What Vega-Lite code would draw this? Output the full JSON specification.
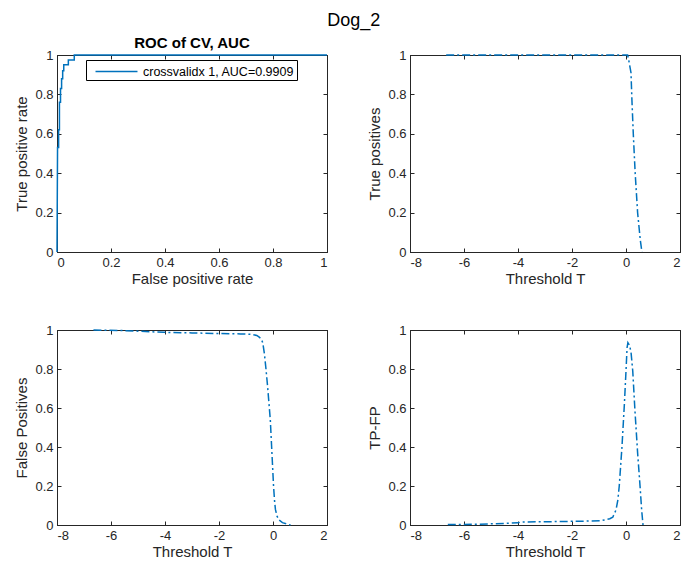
{
  "$schema": "https://vega.github.io/schema/vega-lite/v6.json",
  "background": "white",
  "padding": {"left": 14, "top": 11, "right": 0, "bottom": 0},
  "title": {"text": "Dog_2", "fontSize": 18, "font": "Liberation Sans", "fontWeight": "normal", "color": "black", "anchor": "middle", "offset": 6, "dx": 6},
  "datasets": {
    "roc": [
      {"i": 0, "fpr": 0, "tpr": 0, "s": "crossvalidx 1, AUC=0.9909"},
      {"i": 1, "fpr": 0.002, "tpr": 0.53, "s": "crossvalidx 1, AUC=0.9909"},
      {"i": 2, "fpr": 0.006, "tpr": 0.53, "s": "crossvalidx 1, AUC=0.9909"},
      {"i": 3, "fpr": 0.006, "tpr": 0.62, "s": "crossvalidx 1, AUC=0.9909"},
      {"i": 4, "fpr": 0.009, "tpr": 0.62, "s": "crossvalidx 1, AUC=0.9909"},
      {"i": 5, "fpr": 0.009, "tpr": 0.76, "s": "crossvalidx 1, AUC=0.9909"},
      {"i": 6, "fpr": 0.013, "tpr": 0.76, "s": "crossvalidx 1, AUC=0.9909"},
      {"i": 7, "fpr": 0.013, "tpr": 0.83, "s": "crossvalidx 1, AUC=0.9909"},
      {"i": 8, "fpr": 0.017, "tpr": 0.83, "s": "crossvalidx 1, AUC=0.9909"},
      {"i": 9, "fpr": 0.017, "tpr": 0.88, "s": "crossvalidx 1, AUC=0.9909"},
      {"i": 10, "fpr": 0.021, "tpr": 0.88, "s": "crossvalidx 1, AUC=0.9909"},
      {"i": 11, "fpr": 0.021, "tpr": 0.92, "s": "crossvalidx 1, AUC=0.9909"},
      {"i": 12, "fpr": 0.025, "tpr": 0.92, "s": "crossvalidx 1, AUC=0.9909"},
      {"i": 13, "fpr": 0.025, "tpr": 0.95, "s": "crossvalidx 1, AUC=0.9909"},
      {"i": 14, "fpr": 0.042, "tpr": 0.95, "s": "crossvalidx 1, AUC=0.9909"},
      {"i": 15, "fpr": 0.042, "tpr": 0.975, "s": "crossvalidx 1, AUC=0.9909"},
      {"i": 16, "fpr": 0.064, "tpr": 0.975, "s": "crossvalidx 1, AUC=0.9909"},
      {"i": 17, "fpr": 0.064, "tpr": 1, "s": "crossvalidx 1, AUC=0.9909"},
      {"i": 18, "fpr": 1, "tpr": 1, "s": "crossvalidx 1, AUC=0.9909"}
    ],
    "tp": [
      {"t": -6.66, "v": 1}, {"t": -4, "v": 1}, {"t": -2, "v": 1}, {"t": 0, "v": 1},
      {"t": 0.06, "v": 1}, {"t": 0.10, "v": 0.975}, {"t": 0.185, "v": 0.91},
      {"t": 0.22, "v": 0.77}, {"t": 0.27, "v": 0.60}, {"t": 0.34, "v": 0.40},
      {"t": 0.43, "v": 0.20}, {"t": 0.53, "v": 0.06}, {"t": 0.59, "v": 0}
    ],
    "fp": [
      {"t": -6.65, "v": 1}, {"t": -5.5, "v": 0.997}, {"t": -4.04, "v": 0.988},
      {"t": -3, "v": 0.985}, {"t": -2, "v": 0.982}, {"t": -1.2, "v": 0.98},
      {"t": -0.81, "v": 0.978}, {"t": -0.6, "v": 0.972}, {"t": -0.51, "v": 0.963},
      {"t": -0.44, "v": 0.955}, {"t": -0.38, "v": 0.935}, {"t": -0.32, "v": 0.88},
      {"t": -0.26, "v": 0.80}, {"t": -0.20, "v": 0.71}, {"t": -0.10, "v": 0.54},
      {"t": -0.04, "v": 0.37}, {"t": 0.02, "v": 0.20}, {"t": 0.06, "v": 0.12},
      {"t": 0.09, "v": 0.08}, {"t": 0.15, "v": 0.045}, {"t": 0.23, "v": 0.025},
      {"t": 0.35, "v": 0.012}, {"t": 0.54, "v": 0.004}, {"t": 0.65, "v": 0}
    ],
    "tpfp": [
      {"t": -6.6, "v": 0.002}, {"t": -5.5, "v": 0.004}, {"t": -4.5, "v": 0.008},
      {"t": -4.01, "v": 0.011}, {"t": -3.89, "v": 0.015}, {"t": -2.41, "v": 0.018},
      {"t": -1.5, "v": 0.02}, {"t": -0.93, "v": 0.022}, {"t": -0.8, "v": 0.026},
      {"t": -0.6, "v": 0.032}, {"t": -0.49, "v": 0.04}, {"t": -0.37, "v": 0.077},
      {"t": -0.30, "v": 0.13}, {"t": -0.25, "v": 0.20}, {"t": -0.15, "v": 0.40},
      {"t": -0.06, "v": 0.62}, {"t": 0.0, "v": 0.79}, {"t": 0.04, "v": 0.91},
      {"t": 0.07, "v": 0.935}, {"t": 0.09, "v": 0.93}, {"t": 0.12, "v": 0.925},
      {"t": 0.15, "v": 0.91}, {"t": 0.19, "v": 0.88}, {"t": 0.25, "v": 0.79},
      {"t": 0.33, "v": 0.59}, {"t": 0.43, "v": 0.37}, {"t": 0.52, "v": 0.20},
      {"t": 0.58, "v": 0.077}, {"t": 0.63, "v": 0}
    ]
  },
  "columns": 2,
  "spacing": {"row": 78, "column": 83},
  "bounds": "flush",
  "concat": [
    {
      "width": 270, "height": 197,
      "title": {"text": "ROC of CV, AUC", "fontSize": 15, "fontWeight": "bold", "font": "Liberation Sans", "color": "black", "offset": -2},
      "data": {"name": "roc"},
      "layer": [
        {
          "mark": {"type": "line", "strokeWidth": 1.5, "color": "#0072BD"},
          "encoding": {
            "x": {"field": "fpr", "type": "quantitative", "scale": {"domain": [0, 1], "nice": false}, "axis": {"values": [0, 0.2, 0.4, 0.6, 0.8, 1], "labelExpr": "'' + datum.value", "title": "False positive rate"}},
            "y": {"field": "tpr", "type": "quantitative", "scale": {"domain": [0, 1], "nice": false}, "axis": {"values": [0, 0.2, 0.4, 0.6, 0.8, 1], "labelExpr": "'' + datum.value", "title": "True positive rate", "titlePadding": 5}},
            "color": {"field": "s", "type": "nominal", "scale": {"range": ["#0072BD"]}, "legend": {"orient": "none", "legendX": 29, "legendY": 5, "title": null, "symbolType": "M-2.5,0H2.5", "symbolSize": 282, "symbolStrokeWidth": 1.5, "strokeColor": "black", "fillColor": "white", "padding": 2, "symbolOffset": 19, "labelFont": "Liberation Sans", "labelFontSize": 12.5, "labelColor": "black", "labelOffset": 17}},
            "order": {"field": "i", "type": "quantitative"}
          }
        },
        {
          "mark": {"type": "line", "opacity": 0},
          "encoding": {
            "x": {"field": "fpr", "type": "quantitative", "axis": {"orient": "top", "values": [0, 0.2, 0.4, 0.6, 0.8, 1], "labels": false, "title": null}},
            "y": {"field": "tpr", "type": "quantitative", "axis": {"orient": "right", "values": [0, 0.2, 0.4, 0.6, 0.8, 1], "labels": false, "title": null}},
            "order": {"field": "i", "type": "quantitative"}
          }
        }
      ],
      "resolve": {"axis": {"x": "independent", "y": "independent"}, "scale": {"color": "independent"}, "legend": {"color": "independent"}}
    },
    {
      "width": 270, "height": 197,
      "data": {"name": "tp"},
      "layer": [
        {
          "mark": {"type": "line", "strokeWidth": 1.5, "color": "#0072BD", "strokeDash": [8, 3, 2, 3]},
          "encoding": {
            "x": {"field": "t", "type": "quantitative", "scale": {"domain": [-8, 2], "nice": false}, "axis": {"values": [-8, -6, -4, -2, 0, 2], "labelExpr": "'' + datum.value", "title": "Threshold T"}},
            "y": {"field": "v", "type": "quantitative", "scale": {"domain": [0, 1], "nice": false}, "axis": {"values": [0, 0.2, 0.4, 0.6, 0.8, 1], "labelExpr": "'' + datum.value", "title": "True positives", "titlePadding": 5}}
          }
        },
        {
          "mark": {"type": "line", "opacity": 0},
          "encoding": {
            "x": {"field": "t", "type": "quantitative", "axis": {"orient": "top", "values": [-8, -6, -4, -2, 0, 2], "labels": false, "title": null}},
            "y": {"field": "v", "type": "quantitative", "axis": {"orient": "right", "values": [0, 0.2, 0.4, 0.6, 0.8, 1], "labels": false, "title": null}}
          }
        }
      ],
      "resolve": {"axis": {"x": "independent", "y": "independent"}}
    },
    {
      "width": 270, "height": 195,
      "data": {"name": "fp"},
      "layer": [
        {
          "mark": {"type": "line", "strokeWidth": 1.5, "color": "#0072BD", "strokeDash": [8, 3, 2, 3]},
          "encoding": {
            "x": {"field": "t", "type": "quantitative", "scale": {"domain": [-8, 2], "nice": false}, "axis": {"values": [-8, -6, -4, -2, 0, 2], "labelExpr": "'' + datum.value", "title": "Threshold T"}},
            "y": {"field": "v", "type": "quantitative", "scale": {"domain": [0, 1], "nice": false}, "axis": {"values": [0, 0.2, 0.4, 0.6, 0.8, 1], "labelExpr": "'' + datum.value", "title": "False Positives", "titlePadding": 5}}
          }
        },
        {
          "mark": {"type": "line", "opacity": 0},
          "encoding": {
            "x": {"field": "t", "type": "quantitative", "axis": {"orient": "top", "values": [-8, -6, -4, -2, 0, 2], "labels": false, "title": null}},
            "y": {"field": "v", "type": "quantitative", "axis": {"orient": "right", "values": [0, 0.2, 0.4, 0.6, 0.8, 1], "labels": false, "title": null}}
          }
        }
      ],
      "resolve": {"axis": {"x": "independent", "y": "independent"}}
    },
    {
      "width": 270, "height": 195,
      "data": {"name": "tpfp"},
      "layer": [
        {
          "mark": {"type": "line", "strokeWidth": 1.5, "color": "#0072BD", "strokeDash": [8, 3, 2, 3]},
          "encoding": {
            "x": {"field": "t", "type": "quantitative", "scale": {"domain": [-8, 2], "nice": false}, "axis": {"values": [-8, -6, -4, -2, 0, 2], "labelExpr": "'' + datum.value", "title": "Threshold T"}},
            "y": {"field": "v", "type": "quantitative", "scale": {"domain": [0, 1], "nice": false}, "axis": {"values": [0, 0.2, 0.4, 0.6, 0.8, 1], "labelExpr": "'' + datum.value", "title": "TP-FP", "titlePadding": 5}}
          }
        },
        {
          "mark": {"type": "line", "opacity": 0},
          "encoding": {
            "x": {"field": "t", "type": "quantitative", "axis": {"orient": "top", "values": [-8, -6, -4, -2, 0, 2], "labels": false, "title": null}},
            "y": {"field": "v", "type": "quantitative", "axis": {"orient": "right", "values": [0, 0.2, 0.4, 0.6, 0.8, 1], "labels": false, "title": null}}
          }
        }
      ],
      "resolve": {"axis": {"x": "independent", "y": "independent"}}
    }
  ],
  "config": {
    "view": {"stroke": "#262626", "strokeWidth": 1},
    "axis": {
      "grid": false,
      "domainColor": "#262626",
      "domainWidth": 1,
      "tickColor": "#262626",
      "tickSize": -4,
      "labelPadding": 8,
      "labelColor": "#262626",
      "labelFont": "Liberation Sans",
      "labelFontSize": 13,
      "titleFont": "Liberation Sans",
      "titleFontSize": 15,
      "titleFontWeight": "normal",
      "titleColor": "#262626",
      "titlePadding": 2
    }
  }
}
